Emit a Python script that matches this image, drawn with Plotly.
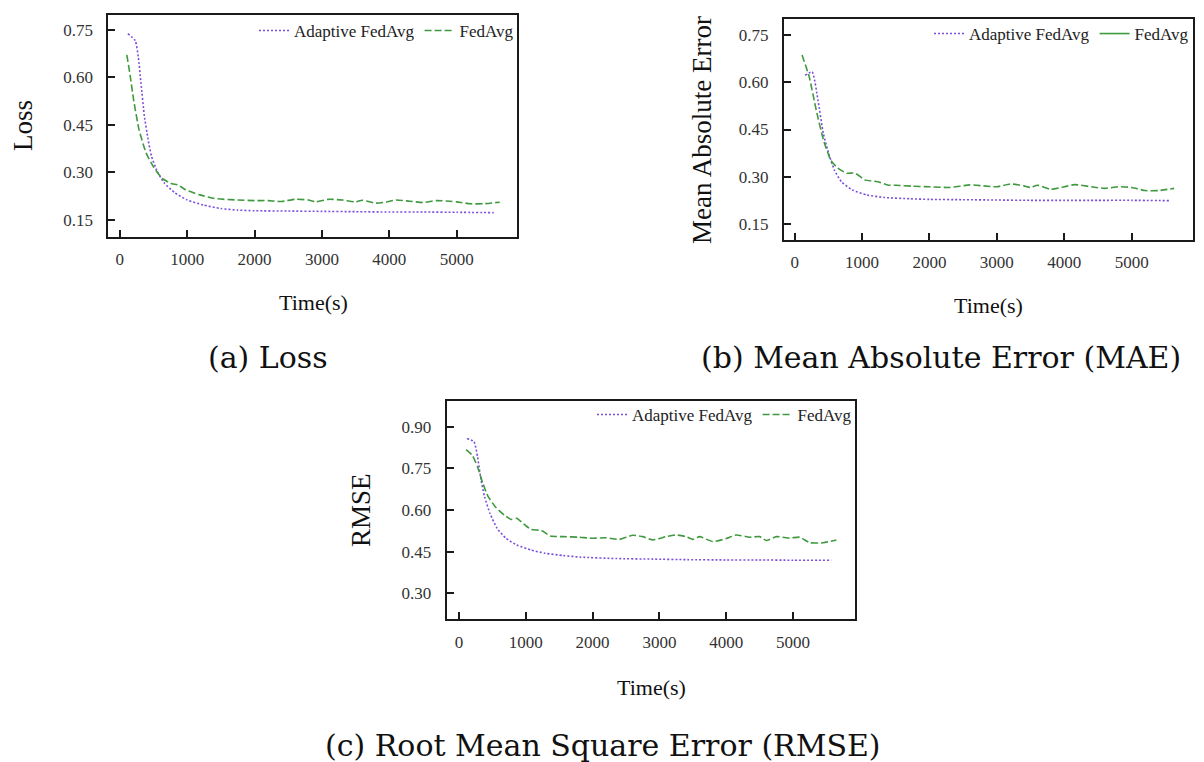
import plotly.graph_objects as go

# ---------------- data ----------------
loss_adaptive_t = [120, 230, 275, 315, 365, 420, 470, 550, 655, 815, 1000, 1240, 1500, 1750, 2000, 2500, 3000, 3500, 4000, 4500, 5000, 5550]
loss_adaptive = [0.738, 0.716, 0.665, 0.582, 0.478, 0.405, 0.352, 0.306, 0.268, 0.236, 0.213, 0.197, 0.186, 0.181, 0.179, 0.178, 0.177, 0.176, 0.175, 0.175, 0.174, 0.173]

loss_fedavg_t = [105, 155, 205, 285, 390, 500, 630, 760, 870, 975, 1190, 1400, 1550, 1750, 2000, 2200, 2400, 2600, 2800, 2900, 3100, 3300, 3500, 3600, 3800, 3950, 4100, 4300, 4500, 4700, 4900, 5000, 5200, 5400, 5640]
loss_fedavg = [0.671, 0.605, 0.530, 0.436, 0.362, 0.318, 0.281, 0.265, 0.260, 0.245, 0.229, 0.218, 0.215, 0.213, 0.211, 0.211, 0.208, 0.215, 0.213, 0.207, 0.215, 0.213, 0.207, 0.212, 0.203, 0.206, 0.213, 0.209, 0.205, 0.211, 0.209, 0.207, 0.201, 0.201, 0.206]

mae_adaptive_t = [155, 260, 345, 425, 505, 590, 695, 855, 1070, 1335, 1710, 2000, 2500, 3000, 3500, 4000, 4500, 5000, 5580]
mae_adaptive = [0.622, 0.633, 0.545, 0.438, 0.374, 0.321, 0.284, 0.258, 0.242, 0.234, 0.230, 0.228, 0.227, 0.226, 0.225, 0.225, 0.225, 0.225, 0.224]

mae_fedavg_t = [110, 215, 320, 427, 535, 640, 775, 860, 910, 1040, 1230, 1390, 1500, 1750, 2000, 2300, 2600, 2800, 3000, 3200, 3400, 3500, 3600, 3800, 4000, 4150, 4400, 4600, 4800, 5000, 5200, 5400, 5630]
mae_fedavg = [0.687, 0.618, 0.512, 0.417, 0.353, 0.327, 0.311, 0.312, 0.310, 0.290, 0.284, 0.273, 0.273, 0.270, 0.268, 0.266, 0.274, 0.271, 0.268, 0.277, 0.271, 0.266, 0.273, 0.260, 0.268, 0.275, 0.268, 0.263, 0.268, 0.266, 0.256, 0.256, 0.263]

rmse_adaptive_t = [120, 225, 277, 330, 383, 463, 570, 703, 863, 1076, 1289, 1555, 1821, 2354, 2900, 3420, 4000, 4480, 5000, 5575]
rmse_adaptive = [0.858, 0.846, 0.792, 0.708, 0.648, 0.588, 0.534, 0.498, 0.474, 0.456, 0.444, 0.436, 0.430, 0.425, 0.423, 0.421, 0.420, 0.420, 0.419, 0.419]

rmse_fedavg_t = [106, 197, 277, 357, 437, 543, 676, 783, 863, 969, 1076, 1235, 1368, 1555, 1800, 2000, 2200, 2400, 2600, 2750, 2900, 3100, 3250, 3400, 3500, 3600, 3800, 4000, 4150, 4350, 4500, 4600, 4750, 4950, 5100, 5250, 5450, 5650]
rmse_fedavg = [0.818, 0.798, 0.756, 0.696, 0.648, 0.612, 0.582, 0.566, 0.570, 0.550, 0.530, 0.526, 0.506, 0.504, 0.502, 0.498, 0.500, 0.494, 0.509, 0.504, 0.492, 0.504, 0.510, 0.504, 0.494, 0.504, 0.486, 0.497, 0.510, 0.502, 0.504, 0.490, 0.504, 0.499, 0.502, 0.482, 0.482, 0.492]

x_ticks = [0, 1000, 2000, 3000, 4000, 5000]
y_ticks_ab = [0.15, 0.30, 0.45, 0.60, 0.75]
y_ticks_c = [0.30, 0.45, 0.60, 0.75, 0.90]
series_names = ["Adaptive FedAvg", "FedAvg"]
y_titles = ["Loss", "Mean Absolute Error", "RMSE"]
x_title = "Time(s)"
captions = ["(a) Loss", "(b) Mean Absolute Error (MAE)", "(c) Root Mean Square Error (RMSE)"]

# ---------------- style ----------------
W, H = 1204, 762
def px(x):
    return x / W
def py(y):
    return 1 - y / H

PURPLE = "#7b4fdc"
GREEN = "#3f9a3f"
SERIF = "Liberation Serif"
CAP_FONT = "DejaVu Serif"

purple_line = dict(color=PURPLE, width=1.6, dash="2px,2px", shape="spline", smoothing=0.5)
green_line = dict(color=GREEN, width=1.6, dash="7px,3px", shape="spline", smoothing=0.5)

fig = go.Figure()

# panel (a)
fig.add_trace(go.Scatter(x=loss_adaptive_t, y=loss_adaptive, mode="lines", name=series_names[0],
                         line=purple_line, xaxis="x", yaxis="y", legend="legend"))
fig.add_trace(go.Scatter(x=loss_fedavg_t, y=loss_fedavg, mode="lines", name=series_names[1],
                         line=green_line, xaxis="x", yaxis="y", legend="legend"))
# panel (b)
fig.add_trace(go.Scatter(x=mae_adaptive_t, y=mae_adaptive, mode="lines", name=series_names[0],
                         line=purple_line, xaxis="x2", yaxis="y2", legend="legend2"))
fig.add_trace(go.Scatter(x=mae_fedavg_t, y=mae_fedavg, mode="lines", name=series_names[1],
                         line=green_line, xaxis="x2", yaxis="y2", showlegend=False))
fig.add_trace(go.Scatter(x=[None], y=[None], mode="lines", name=series_names[1],
                         line=dict(color=GREEN, width=1.6), xaxis="x2", yaxis="y2", legend="legend2"))
# panel (c)
fig.add_trace(go.Scatter(x=rmse_adaptive_t, y=rmse_adaptive, mode="lines", name=series_names[0],
                         line=purple_line, xaxis="x3", yaxis="y3", legend="legend3"))
fig.add_trace(go.Scatter(x=rmse_fedavg_t, y=rmse_fedavg, mode="lines", name=series_names[1],
                         line=green_line, xaxis="x3", yaxis="y3", legend="legend3"))

axis_common = dict(showline=True, linecolor="#1a1a1a", linewidth=2, mirror=True,
                   ticks="inside", ticklen=7, tickwidth=2, tickcolor="#1a1a1a",
                   showgrid=False, zeroline=False,
                   tickfont=dict(family=SERIF, size=17, color="#333333"))

fig.update_layout(
    width=W, height=H, margin=dict(l=0, r=0, t=0, b=0),
    paper_bgcolor="white", plot_bgcolor="white",
    xaxis=dict(domain=[px(108.3), px(517.3)], anchor="y", range=[-170, 5900],
               tickvals=x_ticks, ticklabelstandoff=6, **axis_common),
    yaxis=dict(domain=[py(236.7), py(15)], anchor="x", range=[0.097, 0.797],
               tickvals=y_ticks_ab, tickformat=".2f", ticklabelstandoff=10, **axis_common),
    xaxis2=dict(domain=[px(784), px(1193.3)], anchor="y2", range=[-158, 5915],
                tickvals=x_ticks, ticklabelstandoff=6, **axis_common),
    yaxis2=dict(domain=[py(240), py(19)], anchor="x2", range=[0.099, 0.801],
                tickvals=y_ticks_ab, tickformat=".2f", ticklabelstandoff=10, **axis_common),
    xaxis3=dict(domain=[px(446.7), px(855.3)], anchor="y3", range=[-184, 5932],
                tickvals=x_ticks, ticklabelstandoff=6, **axis_common),
    yaxis3=dict(domain=[py(619.3), py(401)], anchor="x3", range=[0.206, 0.993],
                tickvals=y_ticks_c, tickformat=".2f", ticklabelstandoff=10, **axis_common),
)

legend_common = dict(orientation="h", xanchor="right", yanchor="middle",
                     bgcolor="rgba(0,0,0,0)", borderwidth=0, itemwidth=30,
                     font=dict(family=SERIF, size=17, color="#222222"))
fig.update_layout(
    legend=dict(x=px(519), y=py(31), **legend_common),
    legend2=dict(x=px(1194), y=py(34), **legend_common),
    legend3=dict(x=px(857), y=py(415), **legend_common),
)

annotations = []
# y-axis titles
for txt, x, y in [(y_titles[0], 23, 126), (y_titles[1], 702, 130), (y_titles[2], 361, 510)]:
    annotations.append(dict(text=txt, x=px(x), y=py(y), xref="paper", yref="paper",
                            textangle=-90, showarrow=False, xanchor="center", yanchor="middle",
                            font=dict(family=SERIF, size=27, color="#111111")))
# x-axis titles
for x, y in [(313, 302), (988, 306), (651, 687)]:
    annotations.append(dict(text=x_title, x=px(x), y=py(y), xref="paper", yref="paper",
                            showarrow=False, xanchor="center", yanchor="middle",
                            font=dict(family=SERIF, size=22, color="#111111")))
# captions
for txt, x, y in [(captions[0], 268, 357), (captions[1], 941, 357), (captions[2], 603, 745)]:
    annotations.append(dict(text=txt, x=px(x), y=py(y), xref="paper", yref="paper",
                            showarrow=False, xanchor="center", yanchor="middle",
                            font=dict(family=CAP_FONT, size=30, color="#111111")))
fig.update_layout(annotations=annotations)

fig.write_html("out.html")
